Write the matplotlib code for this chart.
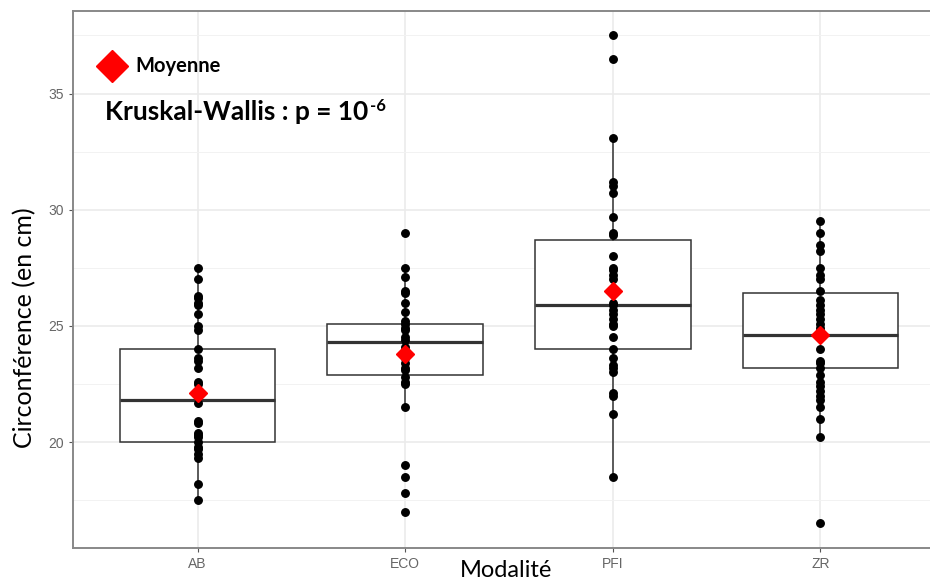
import matplotlib.pyplot as plt

# categories and values
modalites = ['AB', 'ECO', 'PFI', 'ZR']

ab = [27.5, 27.0, 26.3, 26.2, 26.0, 25.9, 25.5, 25.0, 24.8, 24.0, 23.6, 23.5,
      23.2, 22.6, 22.5, 22.0, 21.7, 20.9, 20.8, 20.4, 20.3, 20.2, 20.0, 19.8,
      19.7, 19.5, 19.3, 18.2, 17.5]
eco = [29.0, 27.5, 27.1, 26.5, 26.4, 26.0, 25.6, 25.2, 25.1, 24.9, 24.8, 24.5,
       24.4, 24.1, 23.6, 23.4, 23.2, 23.1, 22.8, 22.6, 22.5, 21.5, 19.0, 18.5,
       17.8, 17.0]
pfi = [37.5, 36.5, 33.1, 31.2, 31.0, 30.7, 29.7, 29.0, 28.9, 28.0, 27.5, 27.4,
       27.2, 27.0, 26.0, 25.9, 25.7, 25.5, 25.3, 25.1, 25.0, 24.5, 24.0, 23.6,
       23.3, 23.2, 23.0, 22.1, 22.0, 21.2, 18.5]
zr = [29.5, 29.0, 28.5, 28.2, 27.5, 27.2, 27.0, 26.5, 26.1, 25.9, 25.7, 25.5,
      25.3, 25.1, 24.9, 24.6, 24.0, 23.5, 23.4, 23.2, 22.9, 22.6, 22.4, 22.2,
      22.0, 21.8, 21.5, 21.0, 20.2, 16.5]
valeurs = [ab, eco, pfi, zr]

# box statistics as drawn
q1 = [20.0, 22.9, 24.0, 23.2]
mediane = [21.8, 24.3, 25.9, 24.6]
q3 = [24.0, 25.1, 28.7, 26.4]
moust_bas = [17.5, 21.5, 18.5, 20.2]
moust_haut = [27.5, 27.5, 33.1, 29.5]
moyenne = [22.1, 23.8, 26.5, 24.6]

plt.rcParams['font.family'] = ['Lato', 'DejaVu Sans']

fig = plt.figure(figsize=(9.3, 5.81), dpi=100)
ax = fig.add_axes([0.0785, 0.0573, 0.9376, 0.9237])

pos = range(1, len(modalites) + 1)
stats = []
for i, m in enumerate(modalites):
    stats.append(dict(label=m, q1=q1[i], med=mediane[i], q3=q3[i],
                      whislo=moust_bas[i], whishi=moust_haut[i], fliers=[]))

ax.bxp(stats, positions=pos, widths=0.75, showcaps=False, patch_artist=True,
       boxprops=dict(facecolor='white', edgecolor='#333333', linewidth=1.1),
       whiskerprops=dict(color='#333333', linewidth=1.1),
       medianprops=dict(color='#333333', linewidth=2.3), zorder=2)

for i, v in enumerate(valeurs):
    ax.plot([i + 1] * len(v), v, 'o', color='black', markersize=5.4, zorder=3)

ax.plot(list(pos), moyenne, 'D', color='red', markersize=9.5, zorder=4,
        linestyle='none')

ax.set_xlim(0.4, 4.6)
ax.set_ylim(15.45, 38.55)
ax.set_yticks([20, 25, 30, 35])
ax.set_yticks([17.5, 22.5, 27.5, 32.5, 37.5], minor=True)
ax.set_xticks(list(pos))
ax.set_xticklabels(modalites)
ax.grid(True, which='major', color='#ebebeb', linewidth=1.2, zorder=0)
ax.grid(True, which='minor', axis='y', color='#f2f2f2', linewidth=0.7, zorder=0)
ax.set_axisbelow(True)
ax.tick_params(axis='both', which='major', length=3, color='#555555',
               labelcolor='#666666')
ax.tick_params(axis='y', which='minor', length=0)
for lab in ax.get_xticklabels() + ax.get_yticklabels():
    lab.set_family('Liberation Sans')
    lab.set_fontsize(10)
for s in ax.spines.values():
    s.set_color('#888888')
    s.set_linewidth(1.4)

ax.set_ylabel('Circonférence (en cm)', fontsize=18, va='center')
ax.yaxis.set_label_coords(-0.056, 0.41)
ax.set_xlabel('Modalité', fontsize=17, va='center')
ax.xaxis.set_label_coords(0.4966, -0.042)

# legend and test annotation
ax.plot([0.0447], [0.8975], 'D', color='red', markersize=16,
        transform=ax.transAxes, clip_on=False)
ax.text(0.0711, 0.8975, 'Moyenne', transform=ax.transAxes, fontsize=14.5,
        fontweight='bold', va='center', ha='left')
kw = ax.text(0.0367, 0.812, 'Kruskal-Wallis : p = 10', transform=ax.transAxes,
             fontsize=19, fontweight='bold', va='center', ha='left')
ax.annotate('-6', xy=(1, 1), xycoords=kw, xytext=(1, -8),
            textcoords='offset points', fontsize=12, fontweight='bold',
            va='baseline', ha='left')

fig.savefig('out.png', dpi=100)
